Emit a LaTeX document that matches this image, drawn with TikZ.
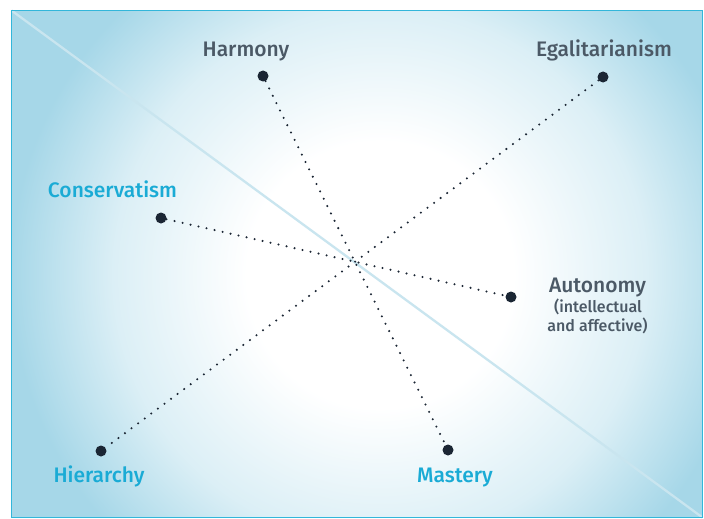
\documentclass[tikz,border=0pt]{standalone}
\usepackage{fontspec}
\setmainfont{Fira Sans Medium}
\definecolor{frameblue}{HTML}{33B6DA}
\definecolor{edgeblue}{HTML}{A6D7E8}
\definecolor{labelgray}{HTML}{4B5966}
\definecolor{labelcyan}{HTML}{1AABD5}
\definecolor{dotnavy}{HTML}{1B2634}
\definecolor{sheen}{HTML}{C9E5EF}
\pgfdeclareradialshading{glow}{\pgfpoint{0bp}{0bp}}{%
  color(0bp)=(white); color(9bp)=(white);
  color(18bp)=(edgeblue!40!white); color(25bp)=(edgeblue);
  color(50bp)=(edgeblue)}
\tikzset{
  dot/.style={circle, fill=dotnavy, inner sep=0pt, minimum size=11pt},
  dotline/.style={draw=dotnavy, line width=2.3pt, line cap=round,
    dash pattern=on 0pt off 8.2pt},
  graylabel/.style={text=labelgray, anchor=base, inner sep=0pt,
    font=\fontsize{21}{24}\selectfont},
  cyanlabel/.style={text=labelcyan, anchor=base, inner sep=0pt,
    font=\fontsize{21}{24}\selectfont},
  smalllabel/.style={text=labelgray, anchor=base, inner sep=0pt,
    font=\fontsize{16}{19}\selectfont},
}
\begin{document}
\begin{tikzpicture}[x=1pt, y=-1pt]
  % page and frame
  \useasboundingbox (0,0) rectangle (704,519);
  \fill[white] (0,0) rectangle (704,519);
  \coordinate (tl) at (11.5,10.5);
  \coordinate (br) at (702.5,517.5);
  \fill[edgeblue] (tl) rectangle (br);
  \begin{scope}
    \clip (tl) rectangle (br);
    \shade[shading=glow] (380,275) circle (370);
  \end{scope}
  % diagonal sheen
  \draw[sheen, line width=2.3pt] (tl) -- (br);
  \draw[frameblue, line width=1.8pt] (tl) rectangle (br);

  % value poles
  \node[dot] (harmony) at (263,76) {};
  \node[dot] (egal) at (603,77) {};
  \node[dot] (cons) at (161,218) {};
  \node[dot] (auto) at (511,297) {};
  \node[dot] (hier) at (101,451) {};
  \node[dot] (mast) at (448,450) {};

  \draw[dotline] (harmony) -- (mast);
  \draw[dotline] (egal) -- (hier);
  \draw[dotline] (cons) -- (auto);

  % labels
  \node[graylabel] (harmonyText) at (246,57) {Harmony};
  \node[graylabel] (egalText) at (604,57) {Egalitarianism};
  \node[cyanlabel] (consText) at (112.5,197) {Conservatism};
  \node[graylabel] (autoText) at (597.5,292) {Autonomy};
  \node[smalllabel] (autoSub1) at (598,312) {(intellectual};
  \node[smalllabel] (autoSub2) at (597.5,331) {and affective)};
  \node[cyanlabel] (hierText) at (99,482) {Hierarchy};
  \node[cyanlabel] (mastText) at (455,482) {Mastery};
\end{tikzpicture}
\end{document}
